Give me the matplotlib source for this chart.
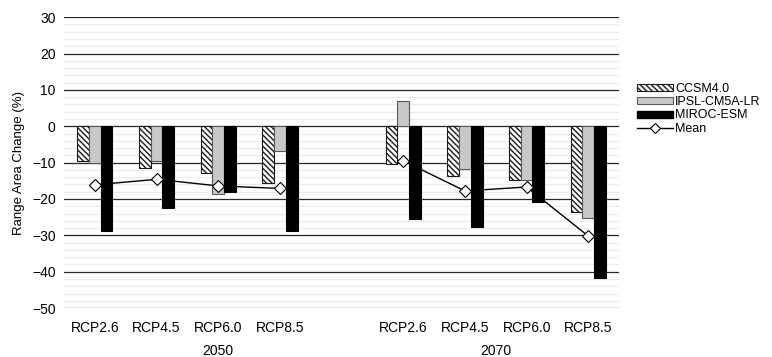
import numpy as np
import matplotlib
matplotlib.use("Agg")
import matplotlib.pyplot as plt
from matplotlib.patches import Patch
from matplotlib.lines import Line2D

plt.rcParams['font.family'] = ['Liberation Sans', 'DejaVu Sans']
plt.rcParams['hatch.linewidth'] = 1.0

scenarios = ["RCP2.6", "RCP4.5", "RCP6.0", "RCP8.5"]
years = ["2050", "2070"]
# values per year, per scenario
ccsm_2050 = [-9.5, -11.6, -12.8, -15.7]
ipsl_2050 = [-10.1, -9.5, -18.5, -6.8]
miroc_2050 = [-28.8, -22.6, -18.1, -28.8]
mean_2050 = [-16.1, -14.6, -16.4, -17.1]
ccsm_2070 = [-10.3, -13.7, -14.8, -23.6]
ipsl_2070 = [7.0, -11.7, -14.8, -25.2]
miroc_2070 = [-25.4, -27.7, -20.8, -41.7]
mean_2070 = [-9.5, -17.8, -16.7, -30.2]

nan = np.nan
ccsm = np.array(ccsm_2050 + [nan] + ccsm_2070)
ipsl = np.array(ipsl_2050 + [nan] + ipsl_2070)
miroc = np.array(miroc_2050 + [nan] + miroc_2070)
mean = np.array(mean_2050 + [nan] + mean_2070)
labels = scenarios + [""] + scenarios
x = np.arange(len(labels))

HATCH = '\\' * 6

fig = plt.figure(figsize=(7.72, 3.57), dpi=100)
ax = fig.add_axes([0.083, 0.137, 0.719, 0.815])

w = 0.19
ax.bar(x - w, ccsm, w, facecolor='white', edgecolor='#1a1a1a', hatch=HATCH,
       linewidth=0.8, zorder=3)
ax.bar(x, ipsl, w, facecolor='#c8c8c8', edgecolor='#595959', linewidth=0.8, zorder=3)
ax.bar(x + w, miroc, w, facecolor='black', edgecolor='black', linewidth=0.8, zorder=3)
ax.plot(x, mean, color='black', linewidth=1.0, marker='D', markersize=6,
        markerfacecolor='white', markeredgecolor='black', markeredgewidth=0.8, zorder=4)

ax.set_xlim(-0.5, len(labels) - 0.5)
ax.set_ylim(-50, 30)
ax.set_yticks(np.arange(-50, 31, 10))
ax.set_yticks(np.arange(-50, 31, 2), minor=True)
ax.grid(axis='y', which='major', color='#262626', linewidth=0.9, zorder=1)
ax.grid(axis='y', which='minor', color='#ebebeb', linewidth=0.8, zorder=0)
ax.set_xticks(x)
ax.set_xticklabels(labels)
ax.tick_params(axis='both', which='both', length=0, labelsize=10, colors='black')
ax.tick_params(axis='x', pad=9)
ax.tick_params(axis='y', pad=6)
for s in ax.spines.values():
    s.set_visible(False)
ax.set_ylabel("Range Area Change (%)", fontsize=9.5, labelpad=5)

trans = matplotlib.transforms.blended_transform_factory(ax.transData, fig.transFigure)
ax.text(2, 1 - 351 / 357, years[0], transform=trans, ha='center', va='center', fontsize=10)
ax.text(6.5, 1 - 351 / 357, years[1], transform=trans, ha='center', va='center', fontsize=10)

handles = [
    Patch(facecolor='white', edgecolor='#1a1a1a', hatch=HATCH, linewidth=0.8),
    Patch(facecolor='#c8c8c8', edgecolor='#595959', linewidth=0.8),
    Patch(facecolor='black', edgecolor='black'),
    Line2D([], [], color='black', linewidth=1.0, marker='D', markersize=5,
           markerfacecolor='white', markeredgecolor='black', markeredgewidth=0.8),
]
fig.legend(handles, ["CCSM4.0", "IPSL-CM5A-LR", "MIROC-ESM", "Mean"],
           loc='upper left', bbox_to_anchor=(634 / 772, 1 - 80 / 357), frameon=False,
           fontsize=9, handlelength=2.9, handleheight=0.5, labelspacing=0.12,
           handletextpad=0.2, borderpad=0.2, borderaxespad=0)

fig.savefig("out.png", dpi=100)
